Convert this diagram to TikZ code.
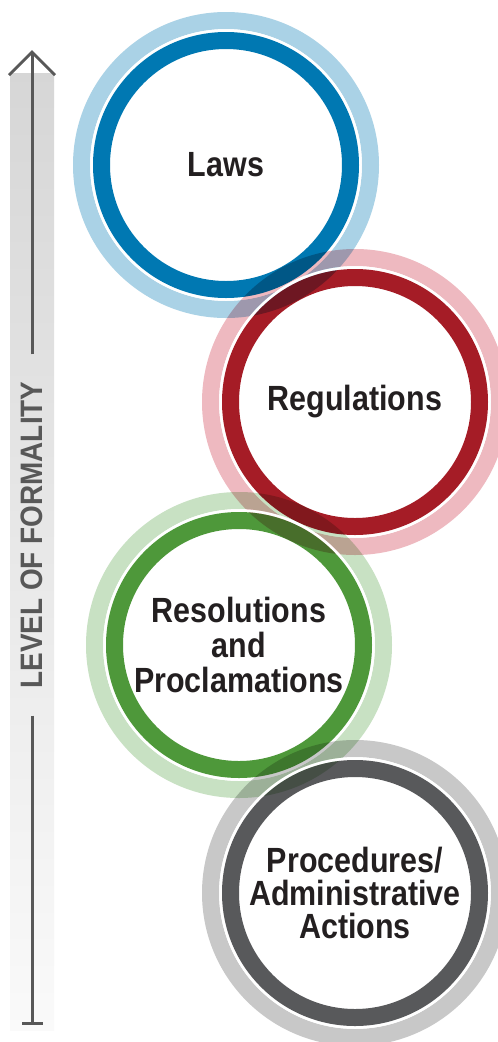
\documentclass[tikz,border=0pt]{standalone}
\usepackage{fontspec}
\setmainfont{Liberation Sans}
\newfontfamily\circfont[FakeStretch=0.87]{Liberation Sans}
\newfontfamily\axisfont[FakeStretch=0.9]{Liberation Sans}
\usepackage{tikz}
\usetikzlibrary{arrows.meta}
\definecolor{lawsdark}{RGB}{0,120,178}
\definecolor{lawslight}{RGB}{170,210,230}
\definecolor{regsdark}{RGB}{165,28,38}
\definecolor{regslight}{RGB}{238,185,192}
\definecolor{resoldark}{RGB}{78,152,58}
\definecolor{resollight}{RGB}{200,225,195}
\definecolor{procdark}{RGB}{88,89,91}
\definecolor{proclight}{RGB}{200,200,200}
\definecolor{textblack}{RGB}{35,31,32}
\definecolor{axisgray}{RGB}{88,88,88}
\tikzstyle{circtext} = [align=center,text=textblack,font=\circfont\fontsize{35}{35}\selectfont\bfseries]
\tikzstyle{axislabel} = [text=axisgray,inner xsep=27pt,font=\axisfont\fontsize{31}{31}\selectfont\bfseries]
\tikzstyle{outerring} = [line width=17pt,blend mode=multiply]
\tikzstyle{innerring} = [line width=17pt,blend mode=multiply]
\tikzstyle{gapline} = [line width=2.5pt,white]
\tikzstyle{axis} = [line width=3pt,axisgray]
\tikzset{>=latex}

\begin{document}
\begin{tikzpicture}[x=1pt,y=-1pt]
    \fill [white] (0,0) rectangle (498,1042);
    \useasboundingbox (0,0) rectangle (498,1042);

    % formality axis
    \shade [top color=black!16,bottom color=black!2] (10,73) rectangle (54,1030);
    \node [axislabel,rotate=90] (level) at (32,535) {LEVEL OF FORMALITY};
    \coordinate (tip) at (32,50);
    \coordinate (foot) at (32,1025);
    \draw [axis,-{Straight Barb[length=23pt,width=46pt]}] (level.east) -- (tip);
    \draw [axis,-{Bar[width=21pt]}] (level.west) -- (foot);

    \node [circtext] (laws) at (226,165) {Laws};
    \node [circtext] (regs) at (355,402) {Regulations};
    \node [circtext] (resol) at (239,645) {Resolutions\\and\\Proclamations};
    \node [circtext,font=\circfont\fontsize{35}{33}\selectfont\bfseries] (proc) at (355,893) {Procedures/\\Administrative\\Actions};

    \draw [outerring,lawslight] (laws.center) circle (144.5);
    \draw [gapline] (laws.center) circle (134.5);
    \draw [innerring,lawsdark] (laws.center) circle (124.5);

    \draw [outerring,regslight] (regs.center) circle (144.5);
    \draw [gapline] (regs.center) circle (134.5);
    \draw [innerring,regsdark] (regs.center) circle (124.5);

    \draw [outerring,resollight] (resol.center) circle (144.5);
    \draw [gapline] (resol.center) circle (134.5);
    \draw [innerring,resoldark] (resol.center) circle (124.5);

    \draw [outerring,proclight] (proc.center) circle (144.5);
    \draw [gapline] (proc.center) circle (134.5);
    \draw [innerring,procdark] (proc.center) circle (124.5);
\end{tikzpicture}
\end{document}
